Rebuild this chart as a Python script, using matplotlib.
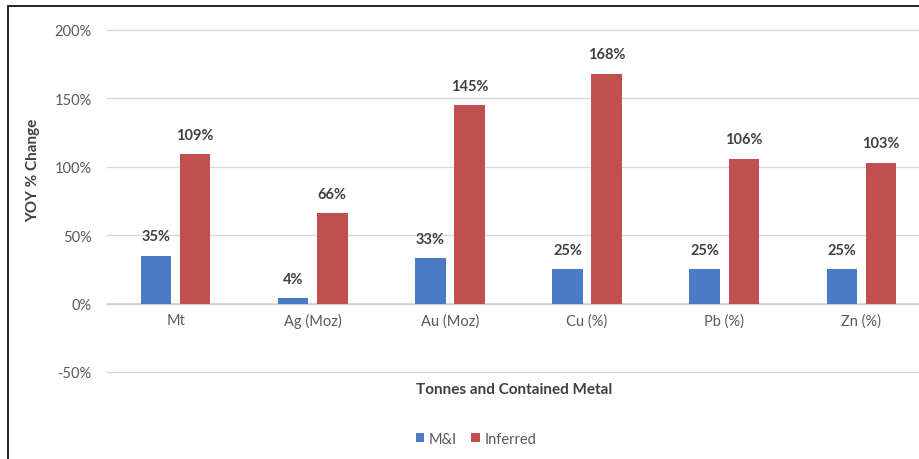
import matplotlib
matplotlib.use("Agg")
import matplotlib.pyplot as plt
import numpy as np
from matplotlib.patches import Rectangle
from matplotlib.ticker import FuncFormatter, MultipleLocator

categories = ["Mt", "Ag (Moz)", "Au (Moz)", "Cu (%)", "Pb (%)", "Zn (%)"]
mi_values = [35, 4, 33, 25, 25, 25]
inferred_values = [109, 66, 145, 168, 106, 103]
series_names = ["M&I", "Inferred"]

plt.rcParams['font.family'] = ['Lato', 'DejaVu Sans']

W, H = 919, 460
fig = plt.figure(figsize=(W / 100, H / 100), dpi=100)
fig.patch.set_facecolor("white")

ax_left, ax_right = 107, 930
ax_top, ax_bot = 31, 373
ax = fig.add_axes([ax_left / W, (H - ax_bot) / H, (ax_right - ax_left) / W, (ax_bot - ax_top) / H])

x = np.arange(len(categories))
bw = 0.222
off = 0.143
blue = "#4A7BC4"
red = "#C0504D"
b1 = ax.bar(x - off, mi_values, bw, color=blue, label=series_names[0], zorder=3)
b2 = ax.bar(x + off, inferred_values, bw, color=red, label=series_names[1], zorder=3)

for bars, vals in ((b1, mi_values), (b2, inferred_values)):
    for r, v in zip(bars, vals):
        ax.annotate(f"{v}%", (r.get_x() + r.get_width() / 2, v), xytext=(0, 9),
                    textcoords="offset points", ha="center", va="bottom",
                    fontsize=10.5, fontweight="bold", color="#404040")

ax.set_xlim(-0.5, len(categories) - 0.5)
ax.set_ylim(-50, 200)
ax.yaxis.set_major_locator(MultipleLocator(50))
ax.yaxis.set_major_formatter(FuncFormatter(lambda v, p: f"{int(v)}%"))
ax.grid(axis="y", color="#D9D9D9", linewidth=1.0, zorder=0)
for gl in ax.get_ygridlines():
    gl.set_clip_on(False)
ax.axhline(0, color="#D0D0D0", linewidth=1.2, zorder=2)
for s in ax.spines.values():
    s.set_visible(False)
ax.tick_params(axis="both", length=0, labelsize=10.5, labelcolor="#595959")
ax.tick_params(axis="y", pad=11)
ax.set_xticks(x)
ax.set_xticklabels([])
for xi, c in zip(x, categories):
    ax.text(xi, -7, c, ha="center", va="top", fontsize=10.5, color="#595959")

fig.text(33 / W, 1 - 170 / H, "YOY % Change", rotation=90, ha="center", va="center",
         fontsize=11, fontweight="bold", color="#404040")
fig.text(514 / W, 1 - 390 / H, "Tonnes and Contained Metal", ha="center", va="center",
         fontsize=11, fontweight="bold", color="#404040")

leg = fig.legend(handles=[b1, b2], labels=series_names, loc="center", bbox_to_anchor=(476 / W, 1 - 440 / H),
                 ncol=2, frameon=False, fontsize=10.5, handlelength=0.6, handleheight=0.6,
                 handletextpad=0.3, columnspacing=1.0)
for t in leg.get_texts():
    t.set_color("#595959")

fig.patches.append(Rectangle((8 / W, -0.1), 1.2, (H - 7) / H + 0.1, transform=fig.transFigure,
                             fill=False, edgecolor="black", linewidth=1.2))

fig.savefig("out.png", dpi=100)
